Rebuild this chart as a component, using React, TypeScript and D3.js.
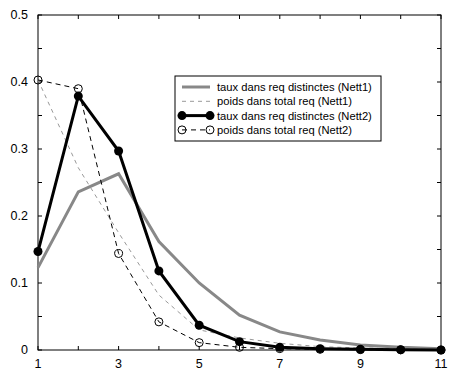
import React from "react";
import * as d3 from "d3";

const xs = [1, 2, 3, 4, 5, 6, 7, 8, 9, 10, 11];
const tauxNett1 = [0.123, 0.236, 0.263, 0.162, 0.1, 0.052, 0.027, 0.015, 0.0075, 0.004, 0.002];
const poidsNett1 = [0.403, 0.272, 0.175, 0.082, 0.03, 0.018, 0.01, 0.005, 0.003, 0.002, 0.001];
const tauxNett2 = [0.147, 0.379, 0.297, 0.118, 0.037, 0.0125, 0.004, 0.002, 0.001, 0.0005, 0];
const poidsNett2 = [0.403, 0.39, 0.144, 0.042, 0.011, 0.004, 0.002, 0.001, 0.0005, 0.0002, 0];
const legendLabels = [
  "taux dans req distinctes (Nett1)",
  "poids dans total req (Nett1)",
  "taux dans req distinctes (Nett2)",
  "poids dans total req (Nett2)",
];
const xTickLabels = [1, 3, 5, 7, 9, 11];
const yTickLabels = [0, 0.1, 0.2, 0.3, 0.4, 0.5];

const W = 457;
const H = 378;
const L = 38, R = 441, T = 15, B = 350;
const FONT = "'Liberation Sans', Arial, sans-serif";

export default function App() {
  const x = d3.scaleLinear().domain([1, 11]).range([L, R]);
  const y = d3.scaleLinear().domain([0, 0.5]).range([B, T]);
  const line = d3
    .line<[number, number]>()
    .x((d) => x(d[0]))
    .y((d) => y(d[1]));
  const pts = (vals: number[]) => xs.map((v, i) => [v, vals[i]] as [number, number]);

  const xMinor = d3.range(1, 12, 1);
  const yMinor = d3.range(0, 0.5001, 0.05);
  const tl = 4;

  const legX = 175, legY = 76, legW = 206, legH = 65;
  const rowY = (i: number) => legY + 11 + i * 14.3;
  const s0 = 182, s1 = 210;

  return (
    <svg width={W} height={H} style={{ position: "absolute", left: 0, top: 0, background: "#fff" }}>
      <rect x={0} y={0} width={W} height={H} fill="#fff" />
      {xMinor.map((v) => (
        <g key={"xt" + v}>
          <line x1={x(v)} x2={x(v)} y1={B} y2={B - tl} stroke="#000" />
          <line x1={x(v)} x2={x(v)} y1={T} y2={T + tl} stroke="#000" />
        </g>
      ))}
      {yMinor.map((v, i) => (
        <g key={"yt" + i}>
          <line x1={L} x2={L + tl} y1={y(v)} y2={y(v)} stroke="#000" />
          <line x1={R} x2={R - tl} y1={y(v)} y2={y(v)} stroke="#000" />
        </g>
      ))}
      <rect x={L} y={T} width={R - L} height={B - T} fill="none" stroke="#000" strokeWidth={1} />
      {xTickLabels.map((v) => (
        <text key={"xl" + v} x={x(v)} y={368} textAnchor="middle" fontFamily={FONT} fontSize={12.5}>
          {v}
        </text>
      ))}
      {yTickLabels.map((v) => (
        <text key={"yl" + v} x={28} y={y(v) + 4} textAnchor="end" fontFamily={FONT} fontSize={12.5}>
          {v === 0 ? "0" : v.toFixed(1)}
        </text>
      ))}

      <path d={line(pts(tauxNett1)) || ""} fill="none" stroke="#888" strokeWidth={3} />
      <path d={line(pts(poidsNett1)) || ""} fill="none" stroke="#999" strokeWidth={1} strokeDasharray="4,4" />
      <path d={line(pts(tauxNett2)) || ""} fill="none" stroke="#000" strokeWidth={3} />
      {pts(tauxNett2).map((p, i) => (
        <circle key={"f" + i} cx={x(p[0])} cy={y(p[1])} r={4.5} fill="#000" />
      ))}
      <path d={line(pts(poidsNett2)) || ""} fill="none" stroke="#000" strokeWidth={1} strokeDasharray="5,4" />
      {pts(poidsNett2).map((p, i) => (
        <circle key={"o" + i} cx={x(p[0])} cy={y(p[1])} r={4} fill="none" stroke="#000" strokeWidth={1} />
      ))}

      <rect x={legX} y={legY} width={legW} height={legH} fill="#fff" stroke="#000" />
      <line x1={s0} x2={s1} y1={rowY(0)} y2={rowY(0)} stroke="#888" strokeWidth={3} />
      <line x1={s0} x2={s1} y1={rowY(1)} y2={rowY(1)} stroke="#999" strokeWidth={1} strokeDasharray="4,4" />
      <line x1={s0} x2={s1} y1={rowY(2)} y2={rowY(2)} stroke="#000" strokeWidth={3} />
      <circle cx={s0} cy={rowY(2)} r={4.5} fill="#000" />
      <circle cx={s1} cy={rowY(2)} r={4.5} fill="#000" />
      <line x1={s0} x2={s1} y1={rowY(3)} y2={rowY(3)} stroke="#000" strokeWidth={1} strokeDasharray="5,4" />
      <circle cx={s0} cy={rowY(3)} r={4} fill="none" stroke="#000" />
      <circle cx={s1} cy={rowY(3)} r={4} fill="none" stroke="#000" />
      {legendLabels.map((t, i) => (
        <text key={"lg" + i} x={217} y={rowY(i) + 4} fontFamily={FONT} fontSize={11.2}>
          {t}
        </text>
      ))}
    </svg>
  );
}
